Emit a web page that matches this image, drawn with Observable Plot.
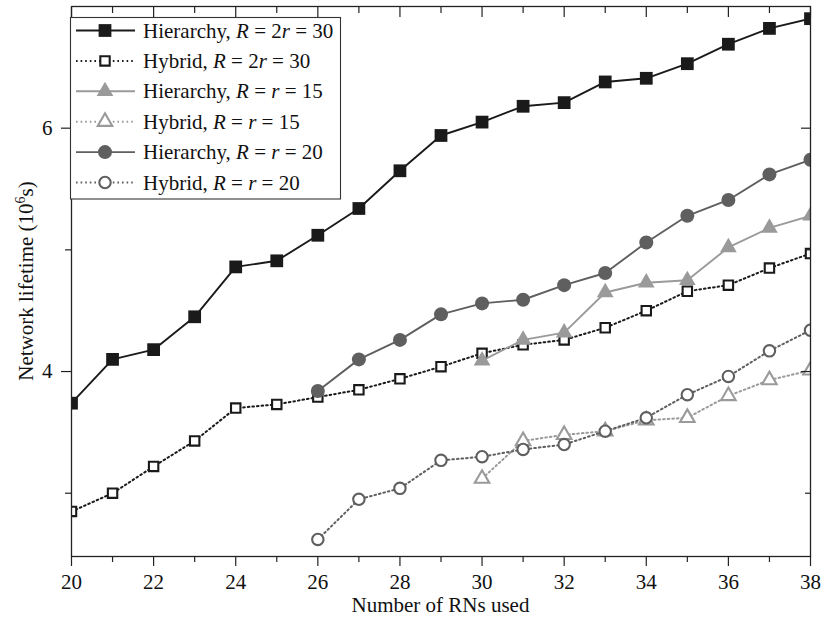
<!DOCTYPE html>
<html><head><meta charset="utf-8">
<script src="https://cdn.jsdelivr.net/npm/d3@7"></script>
<script src="https://cdn.jsdelivr.net/npm/@observablehq/plot@0.6"></script>
<style>body{margin:0;background:#fff}</style>
</head><body><div id="chart"></div>
<script>
// ---- data ----
const rnsAll = [20,21,22,23,24,25,26,27,28,29,30,31,32,33,34,35,36,37,38];
const hier30 = [3.74,4.10,4.18,4.45,4.86,4.91,5.12,5.34,5.65,5.94,6.05,6.18,6.21,6.38,6.41,6.53,6.69,6.82,6.90];
const hyb30  = [2.85,3.00,3.22,3.43,3.70,3.73,3.79,3.85,3.94,4.04,4.15,4.22,4.26,4.36,4.50,4.66,4.71,4.85,4.97];
const rns15 = [30,31,32,33,34,35,36,37,38];
const hier15 = [4.09,4.26,4.32,4.65,4.73,4.75,5.02,5.18,5.28];
const hyb15  = [3.12,3.43,3.48,3.51,3.60,3.62,3.80,3.93,4.01];
const rns20 = [26,27,28,29,30,31,32,33,34,35,36,37,38];
const hier20 = [3.84,4.10,4.26,4.47,4.56,4.59,4.71,4.81,5.06,5.28,5.41,5.62,5.74];
const hyb20  = [2.62,2.95,3.04,3.27,3.30,3.36,3.40,3.51,3.62,3.81,3.96,4.17,4.34];
const seriesNames = ["Hierarchy, R = 2r = 30","Hybrid, R = 2r = 30","Hierarchy, R = r = 15","Hybrid, R = r = 15","Hierarchy, R = r = 20","Hybrid, R = r = 20"];
const xMajorTicks = [20,22,24,26,28,30,32,34,36,38];
const xMinorTicks = [21,23,25,27,29,31,33,35,37];
const yMajorTicks = [4,6];
const yMinorTicks = [3,5];
const xTitle = "Number of RNs used";
const yTitle = "Network lifetime (10";

// ---- styles ----
const FONT = "'Liberation Serif', 'Times New Roman', serif";
const FS = 21;
const styles = [
  {xs: rnsAll, ys: hier30, color:"#1a1a1a", dash:null, symbol:"square", r:7.2, open:false},
  {xs: rnsAll, ys: hyb30,  color:"#1a1a1a", dash:"1.6,3", symbol:"square", r:5.3, open:true},
  {xs: rns15,  ys: hier15, color:"#9a9a9a", dash:null, symbol:"triangle", r:6.2, open:false},
  {xs: rns15,  ys: hyb15,  color:"#9a9a9a", dash:"1.6,3", symbol:"triangle", r:5.4, open:true},
  {xs: rns20,  ys: hier20, color:"#5f5f5f", dash:null, symbol:"circle", r:7, open:false},
  {xs: rns20,  ys: hyb20,  color:"#5f5f5f", dash:"1.6,3", symbol:"circle", r:5.7, open:true}
];
const series = styles.map((s,i) => ({...s, name: seriesNames[i], data: s.xs.map((x,j)=>({x, y:s.ys[j]}))}));

const marks = [];
for (const s of series) {
  marks.push(Plot.line(s.data, {x:"x", y:"y", stroke:s.color, strokeWidth: s.dash ? 2 : 1.9, strokeDasharray: s.dash, clip:true}));
  marks.push(Plot.dot(s.data, {x:"x", y:"y", symbol:s.symbol, r:s.r,
    fill: s.open ? "white" : s.color, stroke: s.open ? s.color : "none", strokeWidth: s.open ? 2.1 : 0, clip:true}));
}
const axisCol = "#222";
const blank = () => "";
marks.push(
  Plot.axisX({anchor:"bottom", ticks:xMajorTicks, tickSize:10, tickPadding:8, fontSize:FS, tickFormat:d3.format("d"), label:null, stroke:axisCol, strokeWidth:1.2}),
  Plot.axisX({anchor:"bottom", ticks:xMinorTicks, tickSize:6, tickFormat:blank, label:null, stroke:axisCol, strokeWidth:1.2}),
  Plot.axisX({anchor:"top", ticks:xMajorTicks, tickSize:-10, tickFormat:blank, label:null, stroke:axisCol, strokeWidth:1.2}),
  Plot.axisX({anchor:"top", ticks:xMinorTicks, tickSize:-6, tickFormat:blank, label:null, stroke:axisCol, strokeWidth:1.2}),
  Plot.axisY({anchor:"left", ticks:yMajorTicks, tickSize:10, tickPadding:9, fontSize:FS, tickFormat:d3.format("d"), label:null, stroke:axisCol, strokeWidth:1.2}),
  Plot.axisY({anchor:"left", ticks:yMinorTicks, tickSize:6, tickFormat:blank, label:null, stroke:axisCol, strokeWidth:1.2}),
  Plot.axisY({anchor:"right", ticks:yMajorTicks, tickSize:-10, tickFormat:blank, label:null, stroke:axisCol, strokeWidth:1.2}),
  Plot.axisY({anchor:"right", ticks:yMinorTicks, tickSize:-6, tickFormat:blank, label:null, stroke:axisCol, strokeWidth:1.2}),
  Plot.frame({stroke:axisCol, strokeWidth:1.3})
);

const chart = Plot.plot({
  width: 825, height: 624,
  marginLeft: 71, marginRight: 15, marginTop: 6, marginBottom: 68,
  x: {domain:[20,38]},
  y: {domain:[2.48,7.0]},
  style: {fontFamily: FONT, fontSize: FS + "px", background: "white", color: "#111"},
  marks
});
document.getElementById("chart").appendChild(chart);

const svg = d3.select(chart);
// clip data marks to the plot frame
svg.append("defs").append("clipPath").attr("id","frameClip")
  .append("rect").attr("x",71).attr("y",6).attr("width",825-71-15).attr("height",624-6-68);
svg.selectAll("g[aria-label='dot'], g[aria-label='line']").attr("clip-path","url(#frameClip)");

// ---- titles & legend ----
svg.append("text").attr("x", 440.5).attr("y", 612).attr("text-anchor","middle")
  .style("font-family", FONT).style("font-size", FS + "px").attr("fill","#111").text(xTitle);
const yt = svg.append("text").attr("transform","translate(33,281) rotate(-90)").attr("text-anchor","middle")
  .style("font-family", FONT).style("font-size", FS + "px").attr("fill","#111");
yt.append("tspan").text(yTitle);
yt.append("tspan").attr("dy", -8).style("font-size","14px").text("6");
yt.append("tspan").attr("dy", 8).text("s)");

const lg = svg.append("g");
lg.append("rect").attr("x",70.5).attr("y",17.5).attr("width",270).attr("height",181.5)
  .attr("fill","white").attr("stroke","#333").attr("stroke-width",1.1);
const symMap = {square: d3.symbolSquare, triangle: d3.symbolTriangle, circle: d3.symbolCircle};
series.forEach((s,i) => {
  const y = 30.5 + i*30.4;
  lg.append("line").attr("x1",76).attr("x2",135).attr("y1",y).attr("y2",y)
    .attr("stroke", s.color).attr("stroke-width", s.dash ? 2 : 1.9).attr("stroke-dasharray", s.dash);
  lg.append("path").attr("transform",`translate(105,${y})`)
    .attr("d", d3.symbol(symMap[s.symbol], Math.PI*s.r*s.r)())
    .attr("fill", s.open ? "white" : s.color).attr("stroke", s.open ? s.color : "none").attr("stroke-width", s.open ? 2.1 : 0);
  const t = lg.append("text").attr("x",143).attr("y",y+7).attr("text-anchor","start")
    .style("font-family",FONT).style("font-size", FS + "px").attr("fill","#111");
  s.name.split(/(R|r)(?= =)/).forEach(part => {
    if (!part) return;
    const ts = t.append("tspan").text(part);
    if (part === "R" || part === "r") ts.style("font-style","italic");
  });
});
</script>
</body></html>
